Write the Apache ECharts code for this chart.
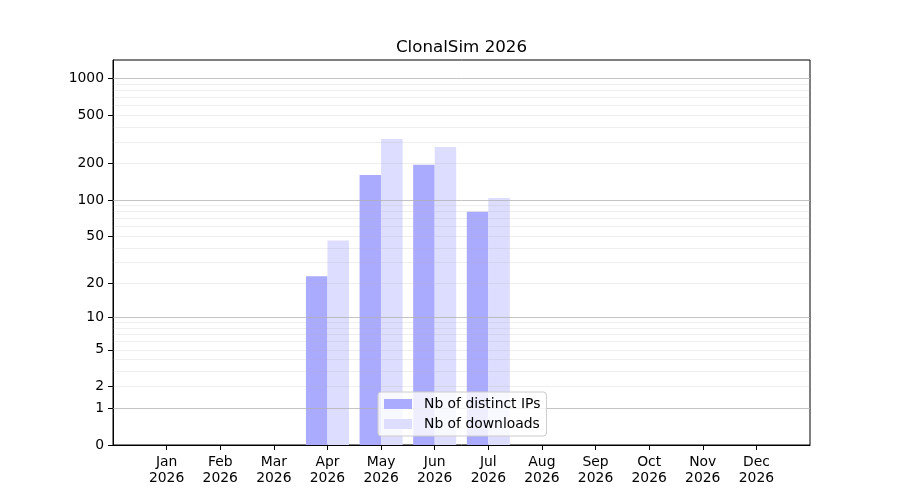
<!DOCTYPE html>
<html>
<head>
<meta charset="utf-8">
<script src="https://cdn.jsdelivr.net/npm/echarts@6/dist/echarts.min.js"></script>
<style>
html, body { margin: 0; padding: 0; background: #fff; }
#main { width: 900px; height: 500px; }
</style>
</head>
<body>
<div id="main"></div>
<script>
var year = '2026';
var months = ['Jan', 'Feb', 'Mar', 'Apr', 'May', 'Jun', 'Jul', 'Aug', 'Sep', 'Oct', 'Nov', 'Dec'];
var distinctIPs = [0, 0, 0, 23, 161, 195, 80, 0, 0, 0, 0, 0];
var downloads = [0, 0, 0, 46, 318, 273, 104, 0, 0, 0, 0, 0];
var yTickLabels = [0, 1, 2, 5, 10, 20, 50, 100, 200, 500, 1000];
var majorGrid = [1, 10, 100, 1000];
var minorGrid = [2, 3, 4, 5, 6, 7, 8, 9, 20, 30, 40, 50, 60, 70, 80, 90, 200, 300, 400, 500, 600, 700, 800, 900];
var yMax = 1410;

// the y scale is log10(1 + n), so counts are shifted by one onto a log axis
function shift(v) { return v + 1; }

var font = 'DejaVu Sans';
var myChart = echarts.init(document.getElementById('main'));

// one empty slot each side so months sit one step inside the frame
var xData = [''].concat(months, ['']);
function pad(arr) { return ['-'].concat(arr.map(shift), ['-']); }

function gridAxis(values, color) {
    return {
        type: 'log', logBase: 10, min: 1, max: yMax, position: 'left', z: 5,
        axisLine: { show: false },
        axisTick: { show: false, customValues: values.map(shift) },
        axisLabel: { show: false, customValues: values.map(shift) },
        splitLine: { show: true, lineStyle: { color: color, width: 1 } }
    };
}

var option = {
    animation: false,
    backgroundColor: '#fff',
    title: {
        text: 'ClonalSim ' + year,
        left: 456.5, top: 34, textAlign: 'center',
        textStyle: { fontFamily: font, fontSize: 16.7, fontWeight: 'normal', color: '#000' }
    },
    legend: {
        data: ['Nb of distinct IPs', 'Nb of downloads'],
        orient: 'vertical', left: 378, top: 392, z: 10,
        icon: 'rect', itemWidth: 28, itemHeight: 10, itemGap: 6,
        padding: [5, 6, 5, 6],
        backgroundColor: 'rgba(255,255,255,0.8)',
        borderColor: '#cccccc', borderWidth: 1, borderRadius: 3,
        textStyle: { fontFamily: font, fontSize: 13.9, color: '#000', padding: [0, 0, 0, 7] }
    },
    grid: {
        left: 113, right: 90, top: 60, bottom: 55,
        show: true, borderColor: '#000', borderWidth: 1, backgroundColor: 'transparent'
    },
    xAxis: {
        type: 'category', data: xData, boundaryGap: false,
        axisLine: { show: true, lineStyle: { color: '#000', width: 1 } },
        axisTick: {
            show: true, length: 5, lineStyle: { color: '#000' },
            interval: function (i) { return i > 0 && i < xData.length - 1; }
        },
        axisLabel: {
            interval: 0, margin: 9, lineHeight: 16,
            fontFamily: font, fontSize: 13.9, color: '#000',
            formatter: function (v) { return v ? v + '\n' + year : ''; }
        },
        splitLine: { show: false }
    },
    yAxis: [
        {
            type: 'log', logBase: 10, min: 1, max: yMax, position: 'left',
            axisLine: { show: true, lineStyle: { color: '#000', width: 1 } },
            axisTick: { show: true, length: 5, lineStyle: { color: '#000' }, customValues: yTickLabels.map(shift) },
            axisLabel: {
                customValues: yTickLabels.map(shift), margin: 9,
                fontFamily: font, fontSize: 13.9, color: '#000',
                formatter: function (v) { return String(Math.round(v - 1)); }
            },
            splitLine: { show: false }
        },
        gridAxis(majorGrid, 'rgba(176,176,176,0.75)'),
        gridAxis(minorGrid, 'rgba(176,176,176,0.22)')
    ],
    series: [
        {
            name: 'Nb of distinct IPs', type: 'bar', yAxisIndex: 0,
            data: pad(distinctIPs), barWidth: 21.5, barGap: '0%',
            itemStyle: { color: '#aaaaff' }
        },
        {
            name: 'Nb of downloads', type: 'bar', yAxisIndex: 0,
            data: pad(downloads), barWidth: 21.5, barGap: '0%',
            itemStyle: { color: '#ddddff' }
        }
    ]
};

myChart.setOption(option);
</script>
</body>
</html>
